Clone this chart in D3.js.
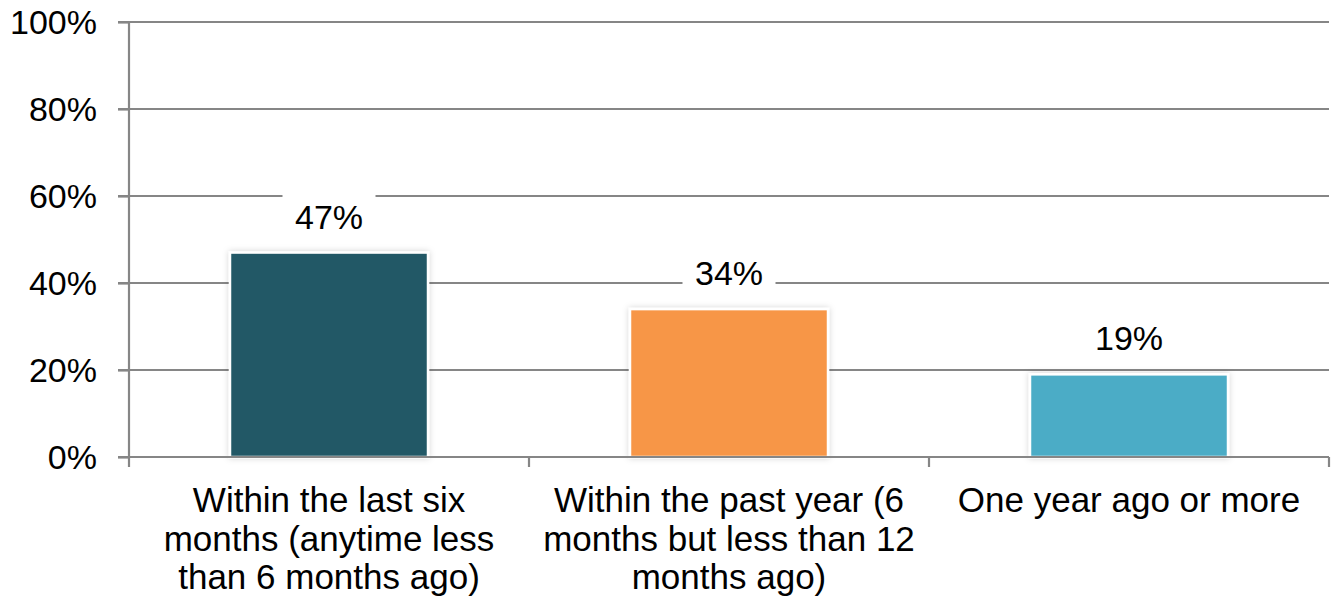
<!DOCTYPE html>
<html><head><meta charset="utf-8">
<script src="https://cdn.jsdelivr.net/npm/d3@7"></script>
<style>body{margin:0;background:#fff}svg{display:block}text{font-family:"Liberation Sans",Arial,sans-serif;fill:#000}</style>
</head><body><svg id="c" width="1335" height="604"></svg>
<script>
const categories = [
  ["Within the last six","months (anytime less","than 6 months ago)"],
  ["Within the past year (6","months but less than 12","months ago)"],
  ["One year ago or more"]
];
const values = [47, 34, 19];
const barColors = ["#225866", "#F79646", "#4BACC6"];
const yTicks = [0, 20, 40, 60, 80, 100];

const svg = d3.select("#c");
const m = {l:129, r:1329, t:22, b:457};
const keys = categories.map((d,i)=>i);
const x = d3.scaleBand().domain(keys).range([m.l, m.r]).paddingInner(0.505).paddingOuter(0.2525);
const xb = d3.scaleBand().domain(keys).range([m.l, m.r]).padding(0);
const y = d3.scaleLinear().domain([0,100]).range([m.b, m.t]);
const gray = "#868686";

const defs = svg.append("defs");
const f = defs.append("filter").attr("id","sh").attr("x","-10%").attr("y","-10%").attr("width","120%").attr("height","120%");
f.append("feDropShadow").attr("dx",0).attr("dy",0).attr("stdDeviation",3).attr("flood-color","#000").attr("flood-opacity",0.18);

// gridlines with left ticks
svg.append("g").selectAll("line").data(yTicks.filter(t=>t>0)).join("line")
  .attr("x1", m.l-11).attr("x2", m.r).attr("y1", d=>y(d)).attr("y2", d=>y(d))
  .attr("stroke", gray).attr("stroke-width", 2.2);

// y axis
const yAxis = d3.axisLeft(y).tickValues(yTicks).tickSize(11).tickFormat(d=>d+"%");
const gy = svg.append("g").attr("transform",`translate(${m.l},0)`).call(yAxis);
gy.select(".domain").attr("stroke",gray).attr("stroke-width",2.2).attr("d",`M0,${m.t}V${m.b}`);
gy.selectAll(".tick line").attr("stroke",gray).attr("stroke-width",2.2);
gy.selectAll(".tick text").attr("x",-32).attr("dy","0.35em").style("font-size","34px").style("font-family","Liberation Sans, Arial, sans-serif").attr("fill","#000");

// bars
svg.append("g").selectAll("rect").data(values).join("rect")
  .attr("x",(d,i)=>x(i)).attr("width",x.bandwidth())
  .attr("y",d=>y(d)).attr("height",d=>y(0)-y(d))
  .attr("fill",(d,i)=>barColors[i]).attr("stroke","#fff").attr("stroke-width",2.5)
  .attr("filter","url(#sh)");

// x axis
const xAxisLine = svg.append("g");
xAxisLine.append("line").attr("x1",m.l-11).attr("x2",m.r).attr("y1",m.b).attr("y2",m.b).attr("stroke",gray).attr("stroke-width",2.2);
const bounds = keys.map(k=>xb(k)).concat([m.r]);
xAxisLine.selectAll("line.t").data(bounds).join("line").attr("class","t")
  .attr("x1",d=>d).attr("x2",d=>d).attr("y1",m.b).attr("y2",m.b+10).attr("stroke",gray).attr("stroke-width",2.2);

// category labels
const cl = svg.append("g").selectAll("text").data(categories).join("text")
  .attr("text-anchor","middle").style("font-size","35px");
cl.each(function(lines,i){
  const t = d3.select(this);
  lines.forEach((ln,j)=>t.append("tspan").attr("x", xb(i)+xb.bandwidth()/2).attr("y", 512 + j*38.5).text(ln));
});

// value labels with white background
const lg = svg.append("g").selectAll("g").data(values).join("g")
  .attr("transform",(d,i)=>`translate(${x(i)+x.bandwidth()/2},${y(d)-24})`);
lg.append("rect").attr("x",-46.5).attr("width",93).attr("y",-34).attr("height",42).attr("fill","#fff");
lg.append("text").attr("text-anchor","middle").style("font-size","34px").text(d=>d+"%");
</script></body></html>
